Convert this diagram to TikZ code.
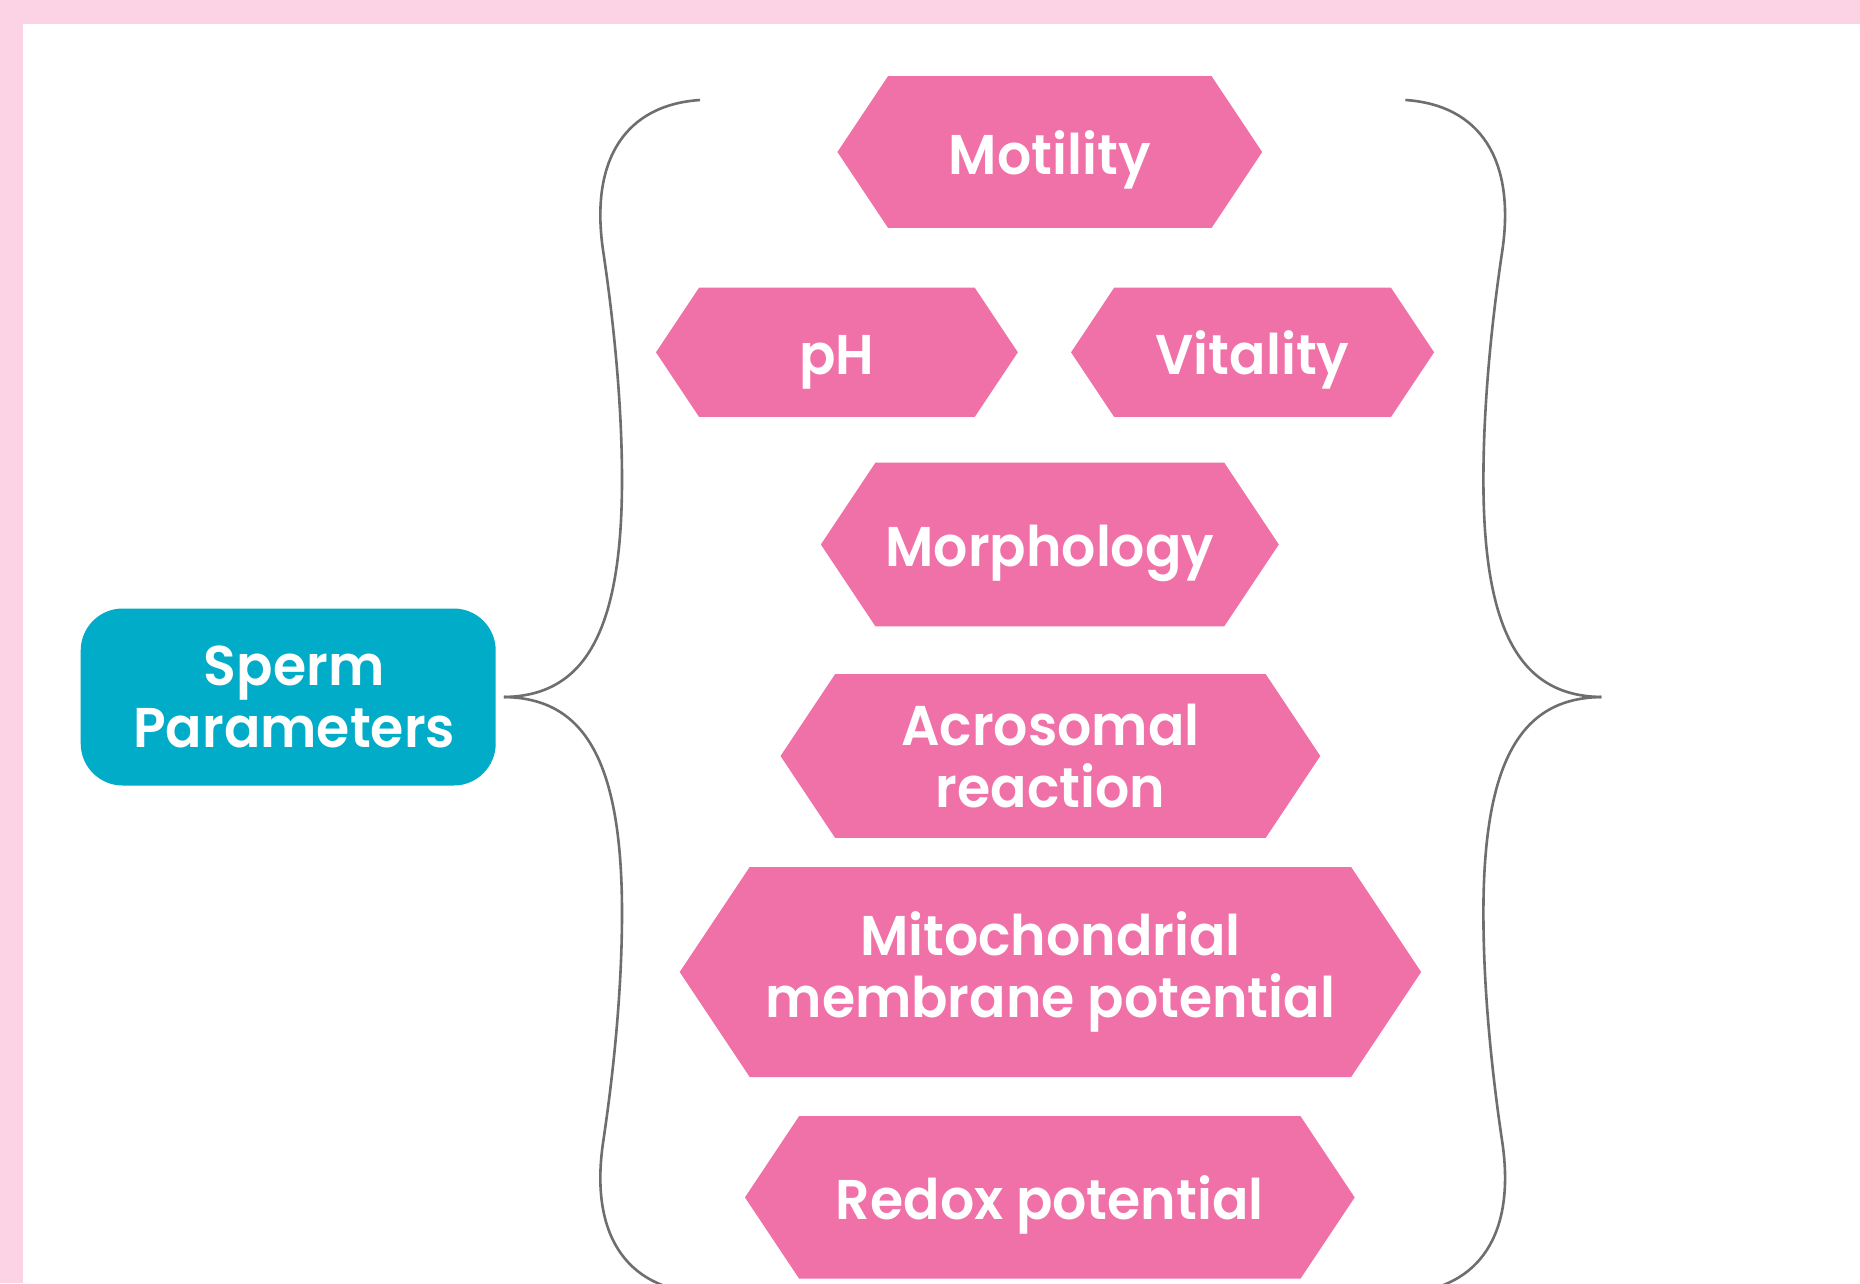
\documentclass[tikz,border=0pt]{standalone}
\usepackage{fontspec}
\newfontfamily\lblfont{Poppins}[UprightFont=* SemiBold, FakeStretch=0.96]
\usetikzlibrary{calc}

\definecolor{framepink}{HTML}{FCD3E5}
\definecolor{hexpink}{HTML}{F070A8}
\definecolor{paramteal}{HTML}{00ACC8}
\definecolor{bracegray}{HTML}{6E6E70}

\begin{document}
\begin{tikzpicture}[x=1pt,y=-1pt,
  lbl/.style={text=white, font=\lblfont\fontsize{56}{62}\selectfont,
    align=center, inner sep=0pt},
  oneline/.style={text height=44pt, text depth=0pt},
  % flat-topped hexagon with pointed left and right ends
  hexbox/.style 2 args={lbl, minimum width=#1, minimum height=#2,
    path picture={\fill[hexpink]
      ([xshift={#2/3}]path picture bounding box.north west)
      -- ([xshift={-#2/3}]path picture bounding box.north east)
      -- (path picture bounding box.east)
      -- ([xshift={-#2/3}]path picture bounding box.south east)
      -- ([xshift={#2/3}]path picture bounding box.south west)
      -- (path picture bounding box.west) -- cycle;}},
  brace/.style={draw=bracegray, line width=2.6pt}
]
\useasboundingbox (0,0) rectangle (1860,1283);
\clip (0,0) rectangle (1860,1283);

% page frame
\fill[framepink] (0,0) rectangle (1860,1283);
\fill[white] (22.5,24) rectangle (1860,1283);

% central topic
\node[lbl, fill=paramteal, rounded corners=42pt, minimum width=415pt,
      minimum height=177pt, inner xsep=0pt] (sp) at (288.2,697)
      {\hspace*{12pt}Sperm\\\hspace*{12pt}Parameters};

% parameters
\node[hexbox={424.7pt}{151.8pt}, oneline] (mot) at (1049.8,152) {Motility};
\node[hexbox={361.8pt}{129.3pt}, oneline] (ph)  at (836.9,352.3) {pH};
\node[hexbox={363pt}{129.3pt}, oneline]   (vit) at (1252.6,352.3) {Vitality};
\node[hexbox={457.9pt}{163.7pt}, oneline] (mor) at (1049.8,544.5) {Morphology};
\node[hexbox={539.7pt}{163.7pt}] (acr) at (1050.4,756) {Acrosomal\\reaction};
\node[hexbox={741.4pt}{210pt}]   (mit) at (1050.4,972) {Mitochondrial\\membrane potential};
\node[hexbox={609.7pt}{162.5pt}, oneline] (red) at (1049.8,1197.4) {Redox potential};

% opening brace attached to the central topic
\coordinate (lt) at ([xshift=8pt]sp.east);
\draw[brace] (lt) .. controls (580,696) and (622,640) .. (622,480)
  .. controls (622,410) and (615,330) .. (603,250)
  .. controls (590,160) and (625,105) .. (700,100);
\draw[brace] (lt) .. controls (580,698) and (622,753) .. (622,913)
  .. controls (622,983) and (615,1063) .. (603,1143)
  .. controls (590,1233) and (625,1288) .. (700,1293);

% closing brace
\coordinate (rt) at (1601.4,697);
\draw[brace] (rt) .. controls (1525.4,696) and (1483.4,640) .. (1483.4,480)
  .. controls (1483.4,410) and (1490.4,330) .. (1502.4,250)
  .. controls (1515.4,160) and (1480.4,105) .. (1405.4,100);
\draw[brace] (rt) .. controls (1525.4,698) and (1483.4,753) .. (1483.4,913)
  .. controls (1483.4,983) and (1490.4,1063) .. (1502.4,1143)
  .. controls (1515.4,1233) and (1480.4,1288) .. (1405.4,1293);
\end{tikzpicture}
\end{document}
